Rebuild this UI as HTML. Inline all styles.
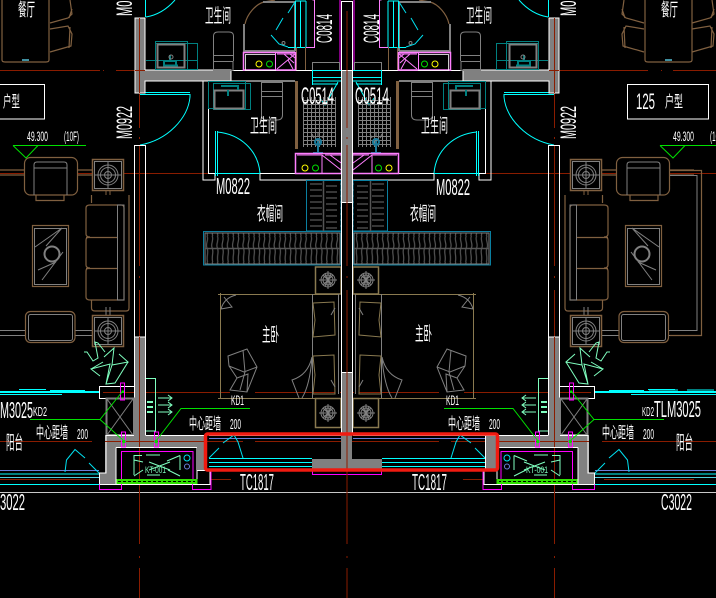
<!DOCTYPE html>
<html><head><meta charset="utf-8"><title>CAD plan</title>
<style>
html,body{margin:0;padding:0;background:#000;width:716px;height:598px;overflow:hidden}
svg{display:block}
.t{fill:#fff;font-family:"Liberation Sans","Noto Sans CJK SC",sans-serif;}
.c{fill:#fff;font-family:"Liberation Sans","Noto Sans CJK SC",sans-serif;}
</style></head><body>
<svg xmlns="http://www.w3.org/2000/svg" width="716" height="598" viewBox="0 0 716 598">
<defs>
<pattern id="grid" width="4" height="4" patternUnits="userSpaceOnUse" x="303" y="100"><path d="M0 .5H4M.5 0V4" stroke="#808080" stroke-width="1" fill="none"/></pattern>
<pattern id="hatch" width="5.2" height="26" patternUnits="userSpaceOnUse" x="205" y="236"><path d="M2 0C4 4 0 8 2 12C4 16 1 20 2.5 26" stroke="#555" stroke-width="1.2" fill="none"/></pattern>
<pattern id="hatch2" width="30" height="6" patternUnits="userSpaceOnUse" x="308" y="182"><path d="M2 2H14M18 4H29" stroke="#555" stroke-width="1.2" fill="none"/></pattern>
<g id="lamp"><circle r="7" fill="none" stroke="#808080"/><circle r="5" fill="none" stroke="#808080"/><path d="M-9 0H9M0 -9V9M-5 -5L5 5M-5 5L5 -5M-3 -6L3 6M3 -6L-3 6" stroke="#808080"/></g>
<g id="tbl"><rect x="-15.5" y="-15.5" width="31" height="31" fill="#000" stroke="#806040" stroke-width="1.5"/><rect x="-13.5" y="-13.5" width="27" height="27" fill="none" stroke="#808080"/><circle r="10" fill="none" stroke="#808080"/><circle r="7.5" fill="none" stroke="#808080"/><circle r="3.5" fill="none" stroke="#808080"/><path d="M-13 0H13M0 -13V13" stroke="#808080"/></g>
<path id="chairs" fill="none" stroke="#806040" stroke-width="1.2" d="M50 23L68 18L72 14L70 0M72 9L69 18M50 29L68 26L72 34L71 46L50 52M70 27L69 48"/>
<g id="half" fill="none" stroke-width="1">
 <!-- axes -->
 <g stroke="#8a1c00">
  <path d="M295 70.5H306"/>
  <path d="M0 173.5H208M295 173.5H347"/>
  <path d="M0 392.5H230M255 392.5H335M347 392.5H340"/>
  <path d="M0 441.5H92M105 441.5H243M255 441.5H347"/>
  <path d="M0 479.5H90M211 479.5H231"/>
  <path d="M139.5 33V128M139.5 137V139M139.5 145V266M139.5 276V278M139.5 290V544M139.5 556V558M139.5 568V598"/>
 </g>
 <!-- dining -->
 <g stroke="#806040" stroke-width="1.2">
  <path d="M2 0V60Q2 62 5 62H46Q49 62 49 60V0"/>
 </g>
 <use href="#chairs"/>
 <rect x="22" y="59" width="7" height="2" fill="#3f8fa0"/>
 <!-- living furniture -->
 <g stroke="#806040" stroke-width="1.2">
  <path d="M0 170H24M0 175H24M78 170H92M78 175H92"/>
  <rect x="24.500" y="157.500" width="53" height="37.500" rx="6" fill="#000"/>
  <path d="M36 195V200.500H64V195"/>
 </g>
 <path d="M34 195V165Q34 162 37 162H64Q67 162 67 165V195M34 168H67" stroke="#808080"/>
 <use href="#tbl" x="108" y="175"/>
 <path d="M106 191V195M110 191V195" stroke="#806040"/>
 <g stroke="#806040" stroke-width="1.2">
  <path d="M91.500 195V203M129 195V308Q129 311 126 311H95Q91.500 311 91.500 308V300"/>
  <path d="M90 205H121Q124 205 124 208V300H90Q86 300 86 297V271Q86 268 90 268Q86 268 86 265V240Q86 237 90 237Q86 237 86 234V208Q86 205 90 205ZM86 237.500H118M86 268.500H118"/>
 </g>
 <path d="M117.500 205V300H124V205Z" stroke="#808080"/>
 <rect x="32.500" y="225.500" width="36" height="61" stroke="#806040" stroke-width="1.2"/>
 <rect x="34.500" y="228.500" width="32" height="56" stroke="#808080"/>
 <circle cx="52" cy="254" r="7.500" stroke="#808080" stroke-width="2"/>
 <path d="M35 247L62 228M46 246L62 228M38 270L56 262M42 280L63 252" stroke="#808080"/>
 <path d="M0 330.500H25M0 335.500H25M75 330.500H92M75 335.500H92" stroke="#808080"/>
 <rect x="25.500" y="311.500" width="49.500" height="31" rx="5" fill="#000" stroke="#806040" stroke-width="1.2"/>
 <rect x="28.500" y="314.500" width="44" height="26" rx="2" stroke="#808080"/>
 <path d="M106 307V315M110 307V315" stroke="#808080"/>
 <use href="#tbl" x="108" y="331"/>
 <!-- plant -->
 <path d="M84 352L87 352L93 361L98 358L95 342L98 343L105 352M104 357L114 348L112 365L128 362L119 354M128 362L115 383L106 384L110 364L91 369L100 376M91 369L103 362M106 384L112 365" stroke="#7fffbf"/>
 <!-- balcony glazing -->
 <path d="M0 391.500H99M0 392.500H99" stroke="#00ffff" stroke-width="1"/>
 <path d="M19 389.500H46M50 390.500H85M0 394.500H62" stroke="#00ffff"/>
 <path d="M0 470.500H99" stroke="#6a7fdc"/>
 <path d="M0 474H99M0 484.500H99" stroke="#00ffff"/>
 <path d="M0 477.500H99" stroke="#4fd0e0"/>
 <path d="M65 472L66.500 460L75 449.500L85 458M89 463L99 473" stroke="#00e0f0"/>
 <!-- upper door -->
 <path d="M145.500 0V17M146 17C158 15 168 8 175 0" stroke="#00ffff"/>
 <path d="M140 94.500H190V97C188 118 168 140 140 145" stroke="#00ffff"/>
 <path d="M140 92.500H190" stroke="#00ffff"/>
 <!-- walls -->
 <path d="M135 18V93H145V81H231V70H145V18Z" fill="#808080" stroke="#fff"/>
 <path d="M135 18H145" stroke="#fff"/>
 <path d="M134.500 145V435M145.500 145V435" stroke="#fff"/>
 <path d="M134.500 145.500H145.500" stroke="#fff"/>
 <rect x="135" y="337" width="10.500" height="98" fill="#808080"/>
 <path d="M135 337H145.500M134.500 337V435M145.500 337V435" stroke="#fff"/>
 <path d="M139.500 337V435" stroke="#8a1c00"/>
 <path d="M139.500 18V93" stroke="#8a1c00"/>
 <path d="M135 70.500H145" stroke="#8a1c00"/>
 <!-- top bathroom -->
 <path d="M231 70.500H341M231 81H295M208.500 81V173.500H215M260 173.500H341M203 81V180H215V173M260 173V180H341" stroke="#fff"/>
 <path d="M146 69.500H191" stroke="#808080"/>
 <g stroke="#008080">
  <rect x="155.500" y="43.500" width="32" height="26"/>
  <rect x="155.500" y="41.500" width="32" height="28"/>
  <rect x="187.500" y="43.500" width="10" height="26"/>
  <path d="M146 60.500H197"/>
 </g>
 <rect x="157.500" y="44.500" width="27" height="23" stroke="#808080" stroke-width="2"/>
 <path d="M164 66V61H176V66M170 55V61M163 65.500H178" stroke="#008080" stroke-width="2"/>
 <circle cx="171" cy="57" r="2" stroke="#808080"/>
 <path d="M213.500 61V36Q213.500 32 218 32H229Q233.500 32 233.500 36V61M213.500 55.500H233.500" stroke="#808080"/>
 <rect x="213.500" y="61.500" width="19.500" height="9" stroke="#808080"/>
 <path d="M245 24C247 14 256 4 264 2L275 0" stroke="#806040" stroke-width="1.2"/>
 <path d="M244 24V51H295M263 2H295V51" stroke="#808080" stroke-width="2"/>
 <path d="M295.500 1V47M300.500 1V47M306 1V47M288 47.500H306M295 1H306" stroke="#00ffff"/>
 <path d="M288 13L295 2M276 30L283 18M271 35L279 44L288 47" stroke="#00e0f0"/>
 <circle cx="283.500" cy="43" r="1.500" stroke="#808080"/>
 <path d="M296.500 47V70M305.500 47V70" stroke="#806040"/>
 <path d="M306 47.500H314.500V0M312.500 0H314.500" stroke="#ff7fff"/>
 <path d="M340 0V70" stroke="#ff00ff"/>
 <rect x="243.500" y="52.500" width="52" height="17.500" stroke="#ff7fff" stroke-width="1.500"/>
 <rect x="245.500" y="54.500" width="30" height="16" stroke="#fff" stroke-width=".8"/>
 <path d="M275.500 53V70M277 54H295M295 54L277 69M284 54L294 63M290 54L295 58M288 60L293 69" stroke="#ff7fff"/>
 <circle cx="259" cy="64" r="3" stroke="#ffff00"/><circle cx="269.500" cy="64" r="3" stroke="#00e000"/>
 <rect x="312.500" y="62.500" width="27" height="8" stroke="#808080"/>
 <path d="M312.500 70V85M312 70.500H341M312 77.500H341M312 81H341M312 84H338M338 82L325 105L319 97" stroke="#00ffff"/>
 <!-- lower bath -->
 <path d="M215.500 131V176M217.500 131V176M217 132C240 134 258 150 260 173M215 173.500H260" stroke="#00ffff"/>
 <g stroke="#008080">
  <rect x="208.500" y="81.500" width="37" height="27"/>
  <rect x="213.500" y="83.500" width="37" height="26"/>
 </g>
 <rect x="214.500" y="90.500" width="29" height="18" stroke="#808080" stroke-width="2"/>
 <path d="M221 86H238V90M228 90V96" stroke="#008080" stroke-width="2"/>
 <rect x="261.500" y="82.500" width="21" height="9" stroke="#808080"/>
 <path d="M261.500 91V115Q261.500 120 268 120H277Q282.500 120 282.500 115V91M261.500 96.500H282.500" stroke="#808080"/>
 <rect x="295" y="81" width="3" height="68" fill="#806040"/>
 <rect x="303" y="97" width="33" height="50" fill="url(#grid)"/>
 <path d="M318 141V153M313 153H323M318 145a3 3 0 1 1 .1 0" stroke="#1a7a9a" stroke-width="2"/>
 <path d="M314 138L312 134M322 138L324 134M318 136V133" stroke="#808080"/>
 <rect x="295.500" y="153.500" width="46" height="20" stroke="#ff7fff" stroke-width="1.500"/>
 <path d="M297 155H322V173M322 155L341 170M330 155L341 163M325 155L341 155" stroke="#ff7fff"/>
 <circle cx="305" cy="168" r="3" stroke="#ffff00"/><circle cx="315.500" cy="168" r="3" stroke="#00e000"/>
 <!-- closets -->
 <rect x="306.500" y="180.500" width="34.500" height="50.500" fill="url(#hatch2)" stroke="#0a7fa0"/>
 <path d="M323.500 181V231" stroke="#555" stroke-width="1.500"/>
 <rect x="203.500" y="231.500" width="137.500" height="33.500" fill="#000" stroke="#0a7fa0"/>
 <rect x="205" y="233" width="135" height="31" fill="url(#hatch)" stroke="#808080"/>
 <path d="M205 248.500H340" stroke="#555" stroke-width="1.500"/>
 <!-- night tables + bed -->
 <rect x="315.500" y="267" width="25.500" height="27" stroke="#8a7a50" stroke-width="1.500"/>
 <use href="#lamp" x="328" y="280"/>
 <rect x="315.500" y="398.500" width="25.500" height="29" stroke="#8a7a50" stroke-width="1.500"/>
 <use href="#lamp" x="328" y="413"/>
 <path d="M218 294.500H338M220.500 293V399M218 398.500H338" stroke="#8a7a50"/>
 <path d="M312.500 294V398M338.500 294V394" stroke="#808080"/>
 <path d="M313 303L334 302L335 335L313 337L315 320ZM313 356L334 355L335 394H313L315 375Z" stroke="#8a7a50"/>
 <path d="M331 315L335 308M331 380L335 387" stroke="#808080"/>
 <path d="M221 309Q224 298 236 295M224 297L232 307L221 309" stroke="#808080"/>
 <path d="M312 357Q308 375 292 380L299 398M312 357Q310 385 302 398" stroke="#808080"/>
 <path d="M228 356L247 349L257 367L247 392L230 390L237 378L229 366ZM229 366L244 372L257 367M237 378L248 374L247 392M243 350L245 372L240 390" stroke="#808080"/>
 <!-- mint fire/gas -->
 <path d="M146 378.500H155.500V431H146" stroke="#7fffbf"/>
 <path d="M158 398H172M168 395L172 398L168 401M158 405H172M168 402L172 405L168 408M158 412H172M168 409L172 412L168 415" stroke="#7fffbf"/>
 <path d="M147 402H153M147 407H153M147 412H153" stroke="#7fffbf" stroke-width="2"/>
 <!-- pillar -->
 <rect x="99.500" y="386.500" width="35" height="12" fill="#000" stroke="#fff"/>
 <path d="M103 392.500H134" stroke="#8a1c00"/>
 <rect x="106.500" y="398.500" width="27.500" height="36.500" stroke="#808080" stroke-width="2"/>
 <path d="M107 399L133 435M133 399L107 435" stroke="#808080"/>
 <!-- bottom walls -->
 <path d="M105 435H205V447H116V473H116V484H99V473H105Z" fill="#808080"/>
 <path d="M134 435.500H106V473H99.500V484.500H210V470.500M145.500 435.500H205M116 447.500H197V484M116 447.500V484" stroke="#fff"/>
 <rect x="197" y="447" width="8" height="23" fill="#808080"/>
 <path d="M197 470.500H209" stroke="#fff"/>
 <path d="M139.500 435V447" stroke="#8a1c00"/>
 <path d="M105 441.500H205" stroke="#8a1c00"/>
 <!-- KT -->
 <rect x="121.500" y="451.500" width="71.500" height="29" stroke="#ff00ff"/>
 <rect x="116.500" y="479" width="81" height="5" fill="#30e000"/>
 <path d="M118 481.500H195" stroke="#000" stroke-dasharray="3 2"/>
 <path d="M134 475V455.500H142M134 460L143 462M180 455.500V470M180 455.500L167 461M146 455H160M149 462L170 470M170 462L149 470M147 475H160M134 476L143 470M180 476L168 470" stroke="#7fffbf"/>
 <circle cx="187" cy="458" r="3" stroke="#00e0f0"/>
 <circle cx="187" cy="466.500" r="2.500" stroke="#6a7fdc"/>
 <path d="M99.500 484.500V489.500H121.500V484M192.500 484V489.500H211V470" stroke="#ff00ff"/>
 <!-- magenta tags + leaders -->
 <rect x="121.500" y="432" width="4" height="15" stroke="#ff00ff"/>
 <rect x="154.500" y="432" width="4" height="15" stroke="#ff00ff"/>
 <rect x="120.500" y="383" width="4" height="17" stroke="#ff00ff"/>
 <path d="M30 419.500H100L122 392M100 419.500L124 441M250 408.500H181L156 441" stroke="#00e000"/>
 <rect x="121.500" y="390.500" width="2.500" height="2.500" fill="#00e000"/>
 <rect x="122.500" y="440" width="3" height="3" fill="#00e000"/>
 <rect x="154.500" y="440" width="3" height="3" fill="#00e000"/>
 <!-- bay window -->
 <path d="M209 435.500H341" stroke="#fff"/>
 <path d="M209 438.500H341" stroke="#6a7fdc"/>
 <path d="M209 458.500H312M209 462.500H312M209 466.500H312" stroke="#00ffff"/>
 <path d="M209 458L219 448M223 443L234 435L238 442L243 458" stroke="#00e0f0"/>
 <path d="M312.500 470.500V474.500H347" stroke="#ff00ff"/>
</g>
</defs>
<rect width="716" height="598" fill="#000"/>
<path d="M0 492.500H716" stroke="#c8c8c8" stroke-width="1"/>
<!-- non-mirrored axes -->
<g fill="none" stroke="#8a1c00">
 <path d="M0 70.500H100M103 70.500H104M116 70.500H146"/>
 <path d="M548 70.500H648M661 70.500H662M673 70.500H716"/>
 <path d="M694 173.500H716M694 441.500H716"/>
</g>
<use href="#half"/>
<use href="#half" transform="translate(694,0) scale(-1,1)"/>
<!-- right-side only extras -->
<g fill="none">
 <use href="#chairs" transform="translate(642,0)"/>
 <path d="M670 170.500H701.500V335.500H670" stroke="#806040" stroke-width="1.200"/>
 <path d="M670 175.500H697V330.500H670" stroke="#808080"/>
 <path d="M694 470.500H716" stroke="#6a7fdc"/>
 <path d="M694 474H716M694 484.500H716" stroke="#00ffff"/>
 <path d="M694 477.500H716" stroke="#4fd0e0"/>
 <path d="M694 391.500H716M694 392.500H716M631 394.500H716M649 390H678M687 390H714" stroke="#00ffff"/>
 <rect x="485" y="435" width="13" height="35" fill="#808080"/>
 <path d="M485.500 435V470M485 435.500H498" stroke="#fff"/>
 <!-- house-type boxes -->
 <rect x="-30" y="84.500" width="74.500" height="34.500" stroke="#fff"/>
 <rect x="627.500" y="84.500" width="81" height="34.500" stroke="#fff"/>
 <!-- level marks -->
 <path d="M13 145.500H86M13 145.500L26 158L38 145.500" stroke="#00e000"/>
 <path d="M660 145.500H716M660 145.500L673 158L685 145.500" stroke="#00e000"/>
</g>
<!-- center wall -->
<g fill="none">
 <path d="M341 435H352V459H382V470H312V459H341Z" fill="#808080"/>
 <rect x="341.500" y="70" width="11" height="132" fill="#808080"/>
 <rect x="341.500" y="372" width="11" height="63" fill="#808080"/>
 <path d="M341 1.500H352.500V70M341.500 1V435M352.500 1V435M341.500 70.500H352.500M341.500 202.500H352.500M341.500 372.500H352.500" stroke="#fff"/>
 <path d="M347 11V128M347 137V139M347 145V266M347 276V278M347 290V544M347 556V558M347 568V598" stroke="#8a1c00"/>
 <rect x="205.500" y="434" width="292" height="36" rx="2" stroke="#f01a10" stroke-width="3.500"/>
</g>
<!-- text -->
<g>
<text class="c" x="18" y="16" font-size="18" textLength="17" lengthAdjust="spacingAndGlyphs">餐厅</text>
<text class="c" x="661" y="16" font-size="18" textLength="17" lengthAdjust="spacingAndGlyphs">餐厅</text>
<text class="t" transform="translate(132,16) rotate(-90)" font-size="22" textLength="34" lengthAdjust="spacingAndGlyphs">M0922</text>
<text class="t" transform="translate(132,139) rotate(-90)" font-size="22" textLength="33" lengthAdjust="spacingAndGlyphs">M0922</text>
<text class="t" transform="translate(576,16) rotate(-90)" font-size="22" textLength="34" lengthAdjust="spacingAndGlyphs">M0922</text>
<text class="t" transform="translate(576,139) rotate(-90)" font-size="22" textLength="33" lengthAdjust="spacingAndGlyphs">M0922</text>
<text class="t" transform="translate(332,43) rotate(-90)" font-size="22" textLength="29" lengthAdjust="spacingAndGlyphs">C0814</text>
<text class="t" transform="translate(379,43) rotate(-90)" font-size="22" textLength="29" lengthAdjust="spacingAndGlyphs">C0814</text>
<text class="c" x="205" y="22" font-size="19" textLength="26" lengthAdjust="spacingAndGlyphs">卫生间</text>
<text class="c" x="466" y="22" font-size="19" textLength="26" lengthAdjust="spacingAndGlyphs">卫生间</text>
<text class="c" x="250" y="132" font-size="19" textLength="27" lengthAdjust="spacingAndGlyphs">卫生间</text>
<text class="c" x="421" y="132" font-size="19" textLength="27" lengthAdjust="spacingAndGlyphs">卫生间</text>
<text class="t" x="216" y="194" font-size="23" textLength="34" lengthAdjust="spacingAndGlyphs">M0822</text>
<text class="t" x="436" y="195" font-size="23" textLength="34" lengthAdjust="spacingAndGlyphs">M0822</text>
<text class="t" x="301" y="104" font-size="24" textLength="33" lengthAdjust="spacingAndGlyphs">C0514</text>
<text class="t" x="355" y="104" font-size="24" textLength="34" lengthAdjust="spacingAndGlyphs">C0514</text>
<text class="c" x="3" y="107" font-size="16" textLength="17" lengthAdjust="spacingAndGlyphs">户型</text>
<text class="t" x="636" y="109" font-size="22" textLength="19" lengthAdjust="spacingAndGlyphs">125</text>
<text class="c" x="665" y="107" font-size="16" textLength="18" lengthAdjust="spacingAndGlyphs">户型</text>
<text class="t" x="27" y="141" font-size="14" textLength="21" lengthAdjust="spacingAndGlyphs">49.300</text>
<text class="t" x="64" y="141" font-size="14" textLength="15" lengthAdjust="spacingAndGlyphs">(10F)</text>
<text class="t" x="673" y="141" font-size="14" textLength="21" lengthAdjust="spacingAndGlyphs">49.300</text>
<text class="t" x="710" y="141" font-size="14" textLength="15" lengthAdjust="spacingAndGlyphs">(10F)</text>
<text class="c" x="257" y="220" font-size="19" textLength="26" lengthAdjust="spacingAndGlyphs">衣帽间</text>
<text class="c" x="410" y="220" font-size="19" textLength="26" lengthAdjust="spacingAndGlyphs">衣帽间</text>
<text class="c" x="262" y="341" font-size="19" textLength="17" lengthAdjust="spacingAndGlyphs">主卧</text>
<text class="c" x="415" y="340" font-size="19" textLength="17" lengthAdjust="spacingAndGlyphs">主卧</text>
<text class="t" x="231" y="405" font-size="14" textLength="13" lengthAdjust="spacingAndGlyphs">KD1</text>
<text class="t" x="446" y="405" font-size="14" textLength="13" lengthAdjust="spacingAndGlyphs">KD1</text>
<text class="t" x="0" y="418" font-size="23" textLength="33" lengthAdjust="spacingAndGlyphs">M3025</text>
<text class="t" x="33" y="416" font-size="13" textLength="14" lengthAdjust="spacingAndGlyphs">KD2</text>
<text class="t" x="642" y="416" font-size="13" textLength="12" lengthAdjust="spacingAndGlyphs">KD2</text>
<text class="t" x="654" y="417" font-size="23" textLength="47" lengthAdjust="spacingAndGlyphs">TLM3025</text>
<text class="c" x="6" y="449" font-size="19" textLength="17" lengthAdjust="spacingAndGlyphs">阳台</text>
<text class="c" x="676" y="449" font-size="19" textLength="17" lengthAdjust="spacingAndGlyphs">阳台</text>
<text class="c" x="36" y="438" font-size="16" textLength="32" lengthAdjust="spacingAndGlyphs">中心距墙</text>
<text class="t" x="77" y="439" font-size="15" textLength="11" lengthAdjust="spacingAndGlyphs">200</text>
<text class="c" x="189" y="429" font-size="16" textLength="32" lengthAdjust="spacingAndGlyphs">中心距墙</text>
<text class="t" x="230" y="429" font-size="15" textLength="11" lengthAdjust="spacingAndGlyphs">200</text>
<text class="c" x="448" y="429" font-size="16" textLength="32" lengthAdjust="spacingAndGlyphs">中心距墙</text>
<text class="t" x="489" y="429" font-size="15" textLength="11" lengthAdjust="spacingAndGlyphs">200</text>
<text class="c" x="602" y="438" font-size="16" textLength="32" lengthAdjust="spacingAndGlyphs">中心距墙</text>
<text class="t" x="643" y="439" font-size="15" textLength="11" lengthAdjust="spacingAndGlyphs">200</text>
<text class="t" x="240" y="490" font-size="23" textLength="34" lengthAdjust="spacingAndGlyphs">TC1817</text>
<text class="t" x="412" y="490" font-size="23" textLength="35" lengthAdjust="spacingAndGlyphs">TC1817</text>
<text class="t" x="0" y="510" font-size="23" textLength="25" lengthAdjust="spacingAndGlyphs">3022</text>
<text class="t" x="661" y="510" font-size="23" textLength="31" lengthAdjust="spacingAndGlyphs">C3022</text>
<text x="145" y="473" font-size="9" textLength="21" lengthAdjust="spacingAndGlyphs" fill="#7fffbf" font-family="Liberation Sans, sans-serif">KT-001</text>
<text x="526" y="473" font-size="9" textLength="22" lengthAdjust="spacingAndGlyphs" fill="#7fffbf" font-family="Liberation Sans, sans-serif">KT-001</text>
</g>
</svg>
</body></html>
